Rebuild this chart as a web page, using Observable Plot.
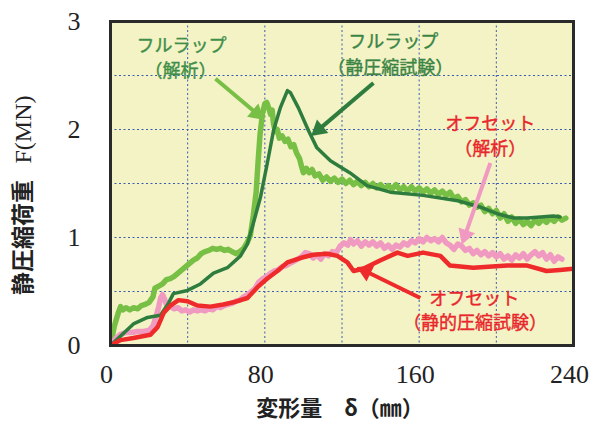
<!DOCTYPE html>
<html>
<head>
<meta charset="utf-8">
<script src="https://cdn.jsdelivr.net/npm/d3@7"></script>
<script src="https://cdn.jsdelivr.net/npm/@observablehq/plot@0.6"></script>
<style>
  body { margin: 0; background: #fff; }
  svg { display: block; }
</style>
</head>
<body>
<div id="chart"></div>
<script>
// 変形量 δ (mm) と静圧縮荷重 F (MN) の関係

// フルラップ（解析）
const fullAnalysis = [
  [0,0],[2,0.18],[4,0.30],[5.2,0.36],[6.5,0.33],[8,0.35],[10,0.33],[12,0.35],[14,0.34],[16,0.37],
  [18,0.38],[20,0.40],[22,0.45],[23,0.53],[25,0.55],[27,0.57],[29,0.61],[31,0.62],[33,0.64],[35,0.67],
  [37,0.70],[39,0.73],[41,0.76],[43,0.79],[45,0.81],[47,0.85],[49,0.87],[51,0.88],[53,0.90],[55,0.89],
  [57,0.90],[59,0.88],[61,0.89],[63,0.87],[65,0.85],[67,0.87],[69,0.90],[71,0.96],[72.5,1.02],[74,1.20],
  [75.5,1.42],[76.5,1.70],[77.5,1.95],[78.8,2.15],[80,2.24],[81,2.25],[82,2.20],[83,2.14],[83.8,2.18],[84.5,2.05],
  [85.5,1.98],[86.5,2.00],[87.5,1.92],[89,1.94],[90.5,1.89],[92,1.91],[93.5,1.84],[95,1.86],[96.5,1.78],[98,1.73],
  [99,1.66],[100,1.60],[101.5,1.64],[103,1.60],[104.5,1.63],[106,1.57],[108,1.59],[110,1.53],[112,1.56],[114,1.52],
  [116,1.55],[118,1.51],[120,1.54],[122,1.50],[124,1.53],[126,1.49],[128,1.52],[130,1.48],[132,1.51],[134,1.47],
  [136,1.50],[138,1.46],[140,1.49],[142,1.45],[144,1.48],[146,1.45],[148,1.49],[150,1.44],[152,1.47],[154,1.43],
  [156,1.47],[158,1.43],[160,1.46],[162,1.42],[164,1.45],[166,1.41],[168,1.44],[170,1.40],[172,1.43],[174,1.39],
  [176,1.42],[178,1.36],[180,1.38],[182,1.33],[184,1.35],[186,1.30],[188,1.32],[190,1.28],[192,1.30],[194,1.24],
  [196,1.27],[198,1.22],[200,1.25],[202,1.18],[204,1.22],[206,1.15],[208,1.19],[210,1.13],[212,1.17],[214,1.12],
  [216,1.15],[218,1.11],[220,1.16],[222,1.13],[224,1.17],[226,1.14],[228,1.18],[230,1.15],[232,1.19],[234,1.16],[236,1.18]
];

// フルラップ（静圧縮試験）
const fullTest = [
  [0,0],[11.9,0.20],[19.2,0.26],[25.9,0.28],[30,0.39],[32.6,0.48],[39.9,0.51],[46.6,0.57],[53.4,0.67],[60.6,0.72],
  [67.4,0.83],[71,0.94],[74,1.13],[77.7,1.37],[81.3,1.69],[84.5,1.99],[88,2.20],[91.7,2.36],[93.3,2.34],[97.4,2.20],
  [102.6,1.99],[107,1.83],[114,1.71],[124,1.60],[133,1.48],[145,1.42],[162,1.39],[180,1.34],[192,1.28],[200.5,1.22],
  [209,1.18],[216,1.18],[223,1.19],[229.5,1.20],[233,1.19]
];

// オフセット（解析）
const offsetAnalysis = [
  [0,0],[3,0.07],[5,0.10],[8,0.12],[11,0.12],[14,0.13],[17,0.13],[20,0.14],[22,0.18],[23.5,0.26],
  [25,0.36],[26,0.44],[27,0.47],[28,0.43],[29,0.38],[31,0.36],[33,0.34],[35,0.35],[37,0.32],[39,0.33],
  [41,0.31],[43,0.33],[45,0.32],[47,0.33],[49,0.32],[51,0.34],[53,0.33],[55,0.36],[57,0.35],[59,0.37],
  [61,0.38],[63,0.39],[65,0.41],[67,0.42],[69,0.45],[71,0.47],[73,0.50],[75,0.53],[77,0.59],[79,0.62],
  [81,0.64],[83,0.67],[85,0.69],[87,0.70],[89,0.73],[91,0.74],[93,0.76],[95,0.78],[97,0.80],[99,0.82],
  [101,0.86],[103,0.85],[105,0.81],[107,0.84],[109,0.80],[111,0.85],[113,0.83],[115,0.87],[117,0.86],[119,0.92],
  [121,0.95],[123,0.93],[124.5,0.98],[126,0.94],[128,0.97],[130,0.92],[132,0.96],[134,0.93],[136,0.96],[138,0.92],
  [140,0.95],[142,0.90],[144,0.93],[146,0.89],[148,0.93],[150,0.91],[152,0.95],[154,0.93],[156,0.97],[158,0.95],
  [160,0.99],[162,0.96],[164,1.00],[166,0.97],[168,0.99],[170,0.96],[172,1.00],[174,0.95],[176,0.93],[178,0.89],
  [180,0.94],[182,0.92],[184,0.88],[186,0.90],[188,0.85],[190,0.88],[192,0.84],[194,0.87],[196,0.83],[198,0.86],
  [200,0.82],[202,0.85],[204,0.80],[206,0.83],[208,0.79],[210,0.84],[212,0.81],[214,0.85],[216,0.80],[218,0.84],
  [220,0.87],[222,0.83],[224,0.86],[226,0.80],[228,0.84],[230,0.78],[232,0.82],[234,0.80]
];

// オフセット（静的圧縮試験）
const offsetTest = [
  [0,0],[5.2,0.05],[11.9,0.07],[20.7,0.10],[24.4,0.17],[27.5,0.30],[31.1,0.37],[35.2,0.42],[39.9,0.41],[45,0.37],
  [51.8,0.36],[58.5,0.38],[63.7,0.40],[71,0.44],[76.2,0.54],[81.3,0.62],[86.5,0.69],[91.7,0.77],[98.4,0.81],[105,0.84],
  [112.4,0.85],[117.6,0.83],[122.8,0.77],[126,0.69],[131,0.71],[140,0.79],[148.7,0.86],[154,0.83],[162,0.86],[171,0.83],
  [176,0.74],[188,0.72],[205.7,0.74],[216,0.74],[226,0.69],[233,0.70],[240,0.71]
];

// 目盛
const xTicks = [0, 80, 160, 240];
const yTicks = [0, 1, 2, 3];
const xGrid = [40, 80, 120, 160, 200];
const yGrid = [0.5, 1, 1.5, 2, 2.5];

// 注記（文字と位置）
const noteText = ["フルラップ", "（解析）", "フルラップ", "（静圧縮試験）", "オフセット", "（解析）", "オフセット", "（静的圧縮試験）"];
const noteX = [36.8, 36.3, 146.6, 145, 196.9, 196.9, 188.6, 189];
const noteY = [2.77, 2.54, 2.81, 2.57, 2.05, 1.82, 0.43, 0.21];
const noteColor = ["#3f8f49", "#3f8f49", "#3a8444", "#3a8444", "#e8262b", "#e8262b", "#e8262b", "#e8262b"];

// 矢印（始点 → 先端）
const arrowX1 = [54.4, 136.3, 196.9, 160.6];
const arrowY1 = [2.47, 2.43, 1.69, 0.44];
const arrowX2 = [79.0, 104.7, 182.4, 128.5];
const arrowY2 = [2.10, 1.95, 0.95, 0.72];
const arrowColor = ["#78bf45", "#2e7d3e", "#f09ac2", "#ee2a2a"];

const W = 592, H = 421;
const M = { top: 21, right: 19, bottom: 76, left: 110 };
const xDomain = [0, 240], yDomain = [0, 3];

// 矢じり（塗りつぶし三角形）の向きと位置を画面座標で求める
const sx = Plot.scale({ x: { domain: xDomain, range: [M.left, W - M.right] } });
const sy = Plot.scale({ y: { domain: yDomain, range: [H - M.bottom, M.top] } });
const headLen = 15;
const heads = arrowX1.map((_, i) => {
  const ax = sx.apply(arrowX1[i]), ay = sy.apply(arrowY1[i]);
  const bx = sx.apply(arrowX2[i]), by = sy.apply(arrowY2[i]);
  const len = Math.hypot(bx - ax, by - ay);
  const ux = (bx - ax) / len, uy = (by - ay) / len;
  const cx = bx - ux * headLen * 0.55, cy = by - uy * headLen * 0.55;
  const baseX = bx - ux * headLen * 0.8, baseY = by - uy * headLen * 0.8;
  return {
    x: sx.invert(cx), y: sy.invert(cy),
    sx: arrowX1[i], sy: arrowY1[i],
    ex: sx.invert(baseX), ey: sy.invert(baseY),
    angle: Math.atan2(ux, -uy) * 180 / Math.PI,
    color: arrowColor[i]
  };
});

const px = d => d[0], py = d => d[1];
const jp = "Noto Sans CJK JP";
const serif = "Liberation Serif";

const chart = Plot.plot({
  width: W,
  height: H,
  marginTop: M.top,
  marginBottom: M.bottom,
  marginLeft: M.left,
  marginRight: M.right,
  style: { fontFamily: serif, color: "#222", background: "#fff" },
  x: { domain: xDomain },
  y: { domain: yDomain },
  marks: [
    Plot.frame({ fill: "#f4f3c6", stroke: "none" }),
    Plot.gridX({ ticks: xGrid, stroke: "#3a5cb0", strokeOpacity: 1, strokeWidth: 1, strokeDasharray: "2,2.5" }),
    Plot.gridY({ ticks: yGrid, stroke: "#3a5cb0", strokeOpacity: 1, strokeWidth: 1, strokeDasharray: "2,2.5" }),
    Plot.line(fullAnalysis, { x: px, y: py, stroke: "#78bf45", strokeWidth: 5.5, strokeLinejoin: "round", clip: true }),
    Plot.line(offsetAnalysis, { x: px, y: py, stroke: "#f09ac2", strokeWidth: 5.5, strokeLinejoin: "round", clip: true }),
    Plot.line(fullTest, { x: px, y: py, stroke: "#2e7d3e", strokeWidth: 3.5, strokeLinejoin: "round", clip: true }),
    Plot.line(offsetTest, { x: px, y: py, stroke: "#ee2a2a", strokeWidth: 4.5, strokeLinejoin: "round", clip: true }),
    // 注記の矢印：軸線＋三角形の矢じり
    Plot.link(heads, { x1: "sx", y1: "sy", x2: "ex", y2: "ey", stroke: "color", strokeWidth: 4 }),
    Plot.dot(heads, { x: "x", y: "y", symbol: "triangle", r: 6.5, fill: "color", stroke: "none", rotate: "angle" }),
    Plot.text(noteText, {
      x: noteX, y: noteY, text: noteText, fill: noteColor, stroke: noteColor, strokeWidth: 0.4,
      fontSize: 18, fontFamily: jp
    }),
    Plot.frame({ stroke: "#2a2a2a", strokeWidth: 3 }),
    Plot.axisX({ ticks: xTicks, tickFormat: d => String(d), tickSize: 0, tickPadding: 19, fontSize: 26, fontFamily: serif, dx: -4, label: null }),
    Plot.axisY({ ticks: yTicks, tickFormat: d => String(d), tickSize: 0, tickPadding: 30, fontSize: 26, fontFamily: serif, label: null }),
    // 軸タイトル
    Plot.text([0], { frameAnchor: "left", y: [1.0], dx: -87, rotate: -90, textAnchor: "middle", lineAnchor: "middle", text: ["静圧縮荷重"], fontSize: 23, fontWeight: "bold", fontFamily: jp, fill: "#222" }),
    Plot.text([0], { frameAnchor: "left", y: [2.0], dx: -87, rotate: -90, textAnchor: "middle", lineAnchor: "middle", text: ["F(MN)"], fontSize: 24, fontFamily: serif, fill: "#222" }),
    Plot.text([0], { frameAnchor: "bottom", x: [119], dy: 63, lineAnchor: "middle", text: ["変形量　δ（㎜）"], fontSize: 22, fontWeight: "bold", fontFamily: jp, fill: "#222" })
  ]
});

document.getElementById("chart").append(chart);
</script>
</body>
</html>
